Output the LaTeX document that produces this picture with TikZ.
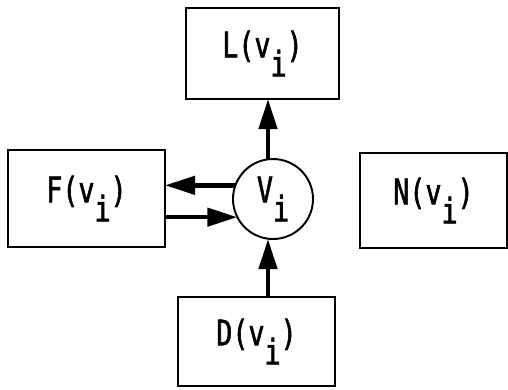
\documentclass[tikz,border=0pt]{standalone}
\usepackage{fontspec}
\newfontfamily\tw[FakeStretch=0.76,FakeBold=1.6]{DejaVu Sans Mono}
\usetikzlibrary{arrows.meta,positioning}
\newcommand{\lowi}{\raisebox{-0.38cm}{i}}

\begin{document}
\begin{tikzpicture}[
  box/.style={draw,line width=1.6pt,inner sep=2pt,outer sep=0pt,font=\tw\fontsize{20}{22}\selectfont},
  vert/.style={draw,circle,line width=1.1pt,minimum size=1.6cm,inner sep=0pt,outer sep=0pt,font=\tw\fontsize{20}{22}\selectfont},
  flow/.style={line width=2.6pt,-{Triangle[length=0.6cm,width=0.36cm]}}]
\useasboundingbox (0,0) rectangle (10.16,-7.78);
\node[vert] (v) at (5.46,-3.98) {V\lowi};
\node[box,minimum width=3.06cm,minimum height=1.82cm] (l) at (5.25,-1.07) {L(v\lowi)};
\node[box,minimum width=3.14cm,minimum height=1.94cm] (f) at (1.73,-3.97) {F(v\lowi)};
\node[box,minimum width=2.94cm,minimum height=1.9cm] (n) at (8.67,-4.01) {N(v\lowi)};
\node[box,minimum width=3.14cm,minimum height=1.78cm] (d) at (5.13,-6.83) {D(v\lowi)};
% connections of the vertex
\draw[flow] ([xshift=-0.1cm]v.north) -- ([xshift=-0.1cm]v.north |- l.south);
\draw[flow] ([xshift=-0.1cm]v.south |- d.north) -- ([xshift=-0.1cm]v.south);
\draw[flow] (v.160) -- (v.160 -| f.east);
\draw[flow] (v.207 -| f.east) -- (v.207);
\end{tikzpicture}
\end{document}
